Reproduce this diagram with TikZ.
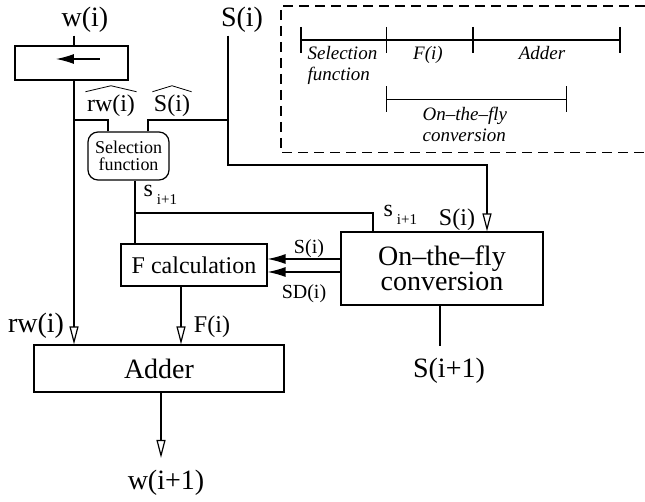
\documentclass[tikz,border=0pt]{standalone}
\usepackage{fontspec}
\setmainfont{Liberation Serif}
\usetikzlibrary{arrows.meta}
\usetikzlibrary{calc}
\usetikzlibrary{positioning}

\tikzset{
  blk/.style={draw, inner sep=0pt, align=center, font=\fontsize{14}{12.5}\selectfont},
  big/.style={font=\fontsize{14}{16}\selectfont, inner sep=1pt},
  mid/.style={font=\fontsize{12}{14}\selectfont, inner sep=1pt},
  sml/.style={font=\fontsize{10}{12}\selectfont, inner sep=1pt},
  leg/.style={font=\fontsize{9.5}{10.5}\selectfont\itshape, inner sep=0pt},
  hat/.style={line width=0.4pt},
  oarr/.style={-{Triangle[open,length=9pt,width=4.5pt]}},
  farr/.style={-{Latex[length=9pt,width=5pt]}},
}
\newcommand{\snext}{s\,\raisebox{-0.7ex}{\fontsize{7.5}{8}\selectfont i+1}}

\begin{document}
\begin{tikzpicture}[x=0.5pt, y=-0.5pt, line width=0.6pt]
      \useasboundingbox (0,0) rectangle (645,502);

      \node[blk, minimum width=56.5pt, minimum height=17pt] (shift) at (71.5,63) {};
      \node[blk, rounded corners=5pt, font=\fontsize{9}{8.5}\selectfont,
            minimum width=40.5pt, minimum height=24pt] (sel) at (128.5,156) {Selection\\function};
      \node[blk, font=\fontsize{12}{14}\selectfont,
            minimum width=73pt, minimum height=21pt] (fcalc) at (194,265) {F calculation};
      \node[blk, minimum width=101pt, minimum height=36.5pt] (otf) at (442,268.5) {On--the--fly\\conversion};
      \node[blk, minimum width=125pt, minimum height=23.5pt] (adder) at (159,368.5) {Adder};

      \node[big, anchor=base] (win) at (85,27) {w(i)};
      \node[big, anchor=base] (sin) at (242,27) {S(i)};
      \node[mid, anchor=base] (rwhat) at (111,112) {rw(i)};
      \node[mid, anchor=base] (shat) at (172,112) {S(i)};
      \node[mid, anchor=base west] (s1) at (141,197) {\snext};
      \node[mid, anchor=base west] (s2) at (381,217) {\snext};
      \node[mid, anchor=base] (sotf) at (457,226) {S(i)};
      \node[sml, anchor=base] (sf) at (309,254) {S(i)};
      \node[sml, anchor=base] (sdf) at (304,299) {SD(i)};
      \node[big, anchor=base] (rwin) at (36,333) {rw(i)};
      \node[mid, anchor=base] (fin) at (212,333) {F(i)};
      \node[big, anchor=base] (sout) at (449,378) {S(i+1)};
      \node[big, anchor=base] (wout) at (166,490) {w(i+1)};

      % hats over rw(i) and S(i)
      \draw[hat] ($(rwhat.north west)+(1,-1)$) -- ($(rwhat.north)+(0,-7)$) -- ($(rwhat.north east)+(-1,-1)$);
      \draw[hat] ($(shat.north west)+(1,-1)$) -- ($(shat.north)+(0,-7)$) -- ($(shat.north east)+(-1,-1)$);

      \coordinate (rwx) at (74,0);
      \coordinate (rwy) at (74,120);
      \coordinate (rsx) at (108,0);
      \coordinate (shx) at (148,0);
      \coordinate (sx) at (228,165);
      \coordinate (ox) at (487,0);
      \coordinate (sox) at (135,213);
      \coordinate (s2x) at (373,0);
      \coordinate (ya) at (0,259);
      \coordinate (yb) at (0,272);
      \coordinate (fx) at (181,0);
      \coordinate (qx) at (440,0);
      \coordinate (ax) at (161,0);
      \coordinate (sh1) at (100,59);
      \coordinate (sh2) at (56,59);

      \draw (win.south -| rwx) -- (shift.north -| rwx);
      \draw[farr] (sh1) -- (sh2);
      \draw[oarr] (shift.south -| rwx) -- (adder.north -| rwx);
      \draw (sel.north -| rsx) |- (rwy);
      \draw[oarr] (sin.south -| sx) -- (sx) -| (otf.north -| ox);
      \draw (sel.north -| shx) |- (sx |- rwy);
      \draw (sel.south -| sox) -- (fcalc.north -| sox);
      \draw (sox) -| (otf.north -| s2x);
      \draw[farr] (otf.west |- ya) -- (fcalc.east |- ya);
      \draw[farr] (otf.west |- yb) -- (fcalc.east |- yb);
      \draw[oarr] (fcalc.south -| fx) -- (adder.north -| fx);
      \draw[shorten >=5pt] (otf.south -| qx) -- (sout.north -| qx);
      \draw[oarr, shorten >=5pt] (adder.south -| ax) -- (wout.north -| ax);

      % timing legend
      \draw[dash pattern=on 5pt off 3pt] (645,6) -- (281,6) -- (281,152.7) -- (645,152.7);
      \coordinate (t0) at (301,40);
      \coordinate (t1) at (386.7,40);
      \coordinate (t2) at (473,40);
      \coordinate (t3) at (620,40);
      \coordinate (o0) at (386.7,99.3);
      \coordinate (o1) at (566.7,99.3);
      \draw (t0) -- (t3);
      \draw (o0) -- (o1);
      \foreach \t in {t0,t1,t2,t3,o0,o1}
        \draw ($(\t)+(0,-13)$) -- ($(\t)+(0,13)$);
      \node[leg, anchor=north west, align=left] (lsel) at (307,46) {Selection\\function};
      \node[leg, anchor=base] (lf) at (428,59.3) {F(i)};
      \node[leg, anchor=base] (ladd) at (542,59.3) {Adder};
      \node[leg, anchor=north west, align=left] (lotf) at (422,107) {On--the--fly\\conversion};
    \end{tikzpicture}
\end{document}
